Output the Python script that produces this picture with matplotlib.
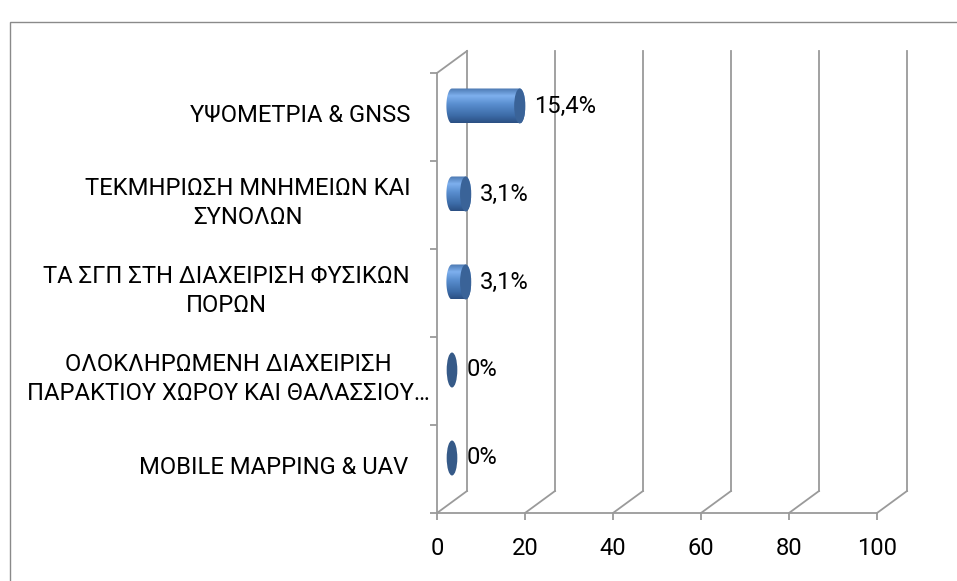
import matplotlib
matplotlib.use('Agg')
import matplotlib.pyplot as plt
from matplotlib.patches import Ellipse, PathPatch, Rectangle
from matplotlib.path import Path
import matplotlib.colors as mcolors
import numpy as np

# ---------------- data ----------------
categories = [
    "ΥΨΟΜΕΤΡΙΑ & GNSS",
    "ΤΕΚΜΗΡΙΩΣΗ ΜΝΗΜΕΙΩΝ ΚΑΙ\nΣΥΝΟΛΩΝ",
    "ΤΑ ΣΓΠ ΣΤΗ ΔΙΑΧΕΙΡΙΣΗ ΦΥΣΙΚΩΝ\nΠΟΡΩΝ",
    "ΟΛΟΚΛΗΡΩΜΕΝΗ ΔΙΑΧΕΙΡΙΣΗ\nΠΑΡΑΚΤΙΟΥ ΧΩΡΟΥ ΚΑΙ ΘΑΛΑΣΣΙΟΥ…",
    "MOBILE MAPPING & UAV",
]
values = [15.4, 3.1, 3.1, 0, 0]
value_labels = ["15,4%", "3,1%", "3,1%", "0%", "0%"]
x_ticks = [0, 20, 40, 60, 80, 100]
x_tick_labels = ["0", "20", "40", "60", "80", "100"]

# ---------------- style / layout ----------------
W, H, DPI = 957, 581, 100
FONT = ['Roboto', 'DejaVu Sans']
GRID = '#9a9a9a'
plt.rcParams['font.family'] = FONT

fig = plt.figure(figsize=(W / DPI, H / DPI), dpi=DPI)
# front plane of the 3-D plot area (pixels)
left_px, right_px, top_px, bottom_px = 437, 877, 73, 513
ax = fig.add_axes([left_px / W, 1 - bottom_px / H,
                   (right_px - left_px) / W, (bottom_px - top_px) / H])

n = len(categories)
ypos = np.arange(n)[::-1]          # first category on top
xmin, xmax = x_ticks[0], x_ticks[-1]
ymin, ymax = -0.5, n - 0.5
px_x = (right_px - left_px) / (xmax - xmin)   # pixels per x unit
px_y = (bottom_px - top_px) / (ymax - ymin)   # pixels per category
dx = 30 / px_x                      # depth offset in data units
dy = 22 / px_y

# fit font size: the two widest reference lines (~326 px and ~397 px)
r = fig.canvas.get_renderer()
scales = []
for s, target in [("ΤΕΚΜΗΡΙΩΣΗ ΜΝΗΜΕΙΩΝ ΚΑΙ", 326), ("ΠΑΡΑΚΤΙΟΥ ΧΩΡΟΥ ΚΑΙ ΘΑΛΑΣΣΙΟΥ…", 400)]:
    probe = fig.text(0, 0, s, fontsize=10)
    scales.append(10 * target / probe.get_window_extent(r).width)
    probe.remove()
FS = min(scales)

# ---- walls / grid ----
lw = 1.3
for t in x_ticks:
    ax.plot([t, t + dx], [ymin, ymin + dy], color=GRID, lw=lw, clip_on=False, zorder=1)
    ax.plot([t + dx, t + dx], [ymin + dy, ymax + dy], color=GRID, lw=lw, clip_on=False, zorder=1)
ax.plot([xmin, xmin + dx], [ymax, ymax + dy], color=GRID, lw=lw, clip_on=False, zorder=1)

# ---- cylinders ----
a = 5.6 / px_x        # half width of end ellipse (x units)
h = 17.5 / px_y       # half height of cylinder (y units)

grad_stops = [(0.0, '#4a77b0'), (0.22, '#7eb0ee'), (0.45, '#5a8fd0'),
              (0.8, '#3b6aa6'), (1.0, '#2b4f82')]
cmap = mcolors.LinearSegmentedColormap.from_list('cyl', grad_stops)
grad = np.linspace(0, 1, 200).reshape(-1, 1)
CAP = '#3a6398'
CAP0 = '#365a88'

for v, yp, lab in zip(values, ypos, value_labels):
    yc = yp + dy / 2
    x0 = xmin + dx / 2
    x1 = x0 + v
    if v > 0:
        th_r = np.linspace(np.pi / 2, -np.pi / 2, 60)
        th_l = np.linspace(3 * np.pi / 2, np.pi / 2, 60)
        pts = [(x0, yc + h), (x1, yc + h)]
        pts += list(zip(x1 + a * np.cos(th_r), yc + h * np.sin(th_r)))
        pts += [(x0, yc - h)]
        pts += list(zip(x0 + a * np.cos(th_l), yc + h * np.sin(th_l)))
        pts.append(pts[0])
        body = PathPatch(Path(pts, closed=True), facecolor='none', edgecolor='none',
                         zorder=3, clip_on=False)
        ax.add_patch(body)
        im = ax.imshow(grad, cmap=cmap, aspect='auto', interpolation='bilinear',
                       extent=[x0 - a, x1 + a, yc - h, yc + h], zorder=3)
        im.set_clip_path(body)
        ax.add_patch(Ellipse((x1, yc), 2 * a, 2 * h, facecolor=CAP,
                             edgecolor='none', zorder=4, clip_on=False))
    else:
        ax.add_patch(Ellipse((x1, yc), 2 * a * 0.95, 2 * h, facecolor=CAP0,
                             edgecolor='none', zorder=4, clip_on=False))
    ax.text(x1 + a + 9 / px_x, yc, lab, fontsize=FS, va='center', ha='left',
            color='black', zorder=5)

# ---- category labels ----
label_pad_px = [27, 26, 27, 7, 29]
for cat, yp, pad in zip(categories, ypos, label_pad_px):
    ax.text(xmin - pad / px_x, yp + 0.02, cat, fontsize=FS, ha='right', va='center',
            multialignment='center', linespacing=1.35, clip_on=False)

# ---- axes ----
ax.set_xlim(xmin, xmax)
ax.set_ylim(ymin, ymax)
ax.set_xticks(x_ticks)
ax.set_xticklabels(x_tick_labels, fontsize=FS)
ax.set_yticks(np.arange(ymin, ymax + 0.01, 1.0))
ax.set_yticklabels([])
ax.tick_params(axis='both', direction='out', length=5, width=lw, color=GRID)
ax.tick_params(axis='x', pad=12)
for s in ['top', 'right']:
    ax.spines[s].set_visible(False)
for s in ['left', 'bottom']:
    ax.spines[s].set_color(GRID)
    ax.spines[s].set_linewidth(lw)
ax.patch.set_visible(False)

# outer chart border
fig.patches.append(Rectangle((10 / W, -0.1), 1.5, (1 - 22 / H) + 0.1,
                             transform=fig.transFigure, fill=False,
                             edgecolor='#8a8a8a', lw=1.0))

fig.savefig('out.png', dpi=DPI)
